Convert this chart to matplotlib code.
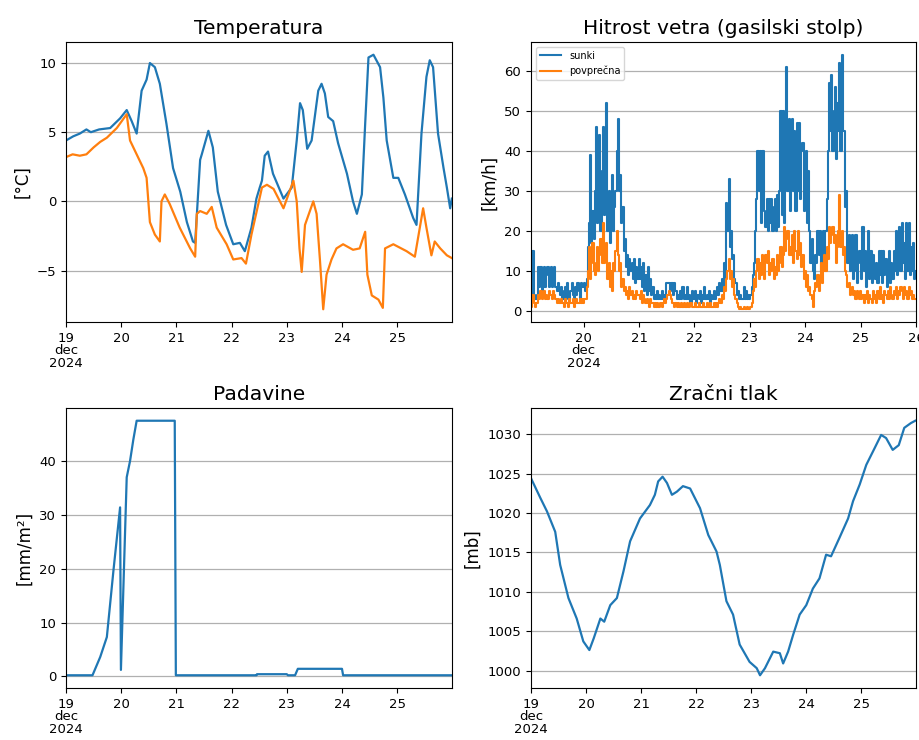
import numpy as np
import pandas as pd
import matplotlib
matplotlib.use("Agg")
import matplotlib.pyplot as plt

START = pd.Timestamp("2024-12-19 00:00")

# --- Temperatura (time in days since 19 Dec 00:00) ---
temp1_days = [0.00, 0.13, 0.25, 0.37, 0.45, 0.60, 0.80, 0.98, 1.10, 1.19, 1.28, 1.37, 1.46,
              1.52, 1.61, 1.70, 1.82, 1.94, 2.07, 2.19, 2.30, 2.34, 2.43, 2.46, 2.58, 2.66,
              2.75, 2.90, 3.03, 3.15, 3.24, 3.36, 3.45, 3.51, 3.55, 3.60, 3.66, 3.75, 3.94,
              4.09, 4.18, 4.24, 4.29, 4.37, 4.45, 4.57, 4.63, 4.69, 4.75, 4.84, 4.93, 5.09,
              5.20, 5.27, 5.36, 5.42, 5.48, 5.57, 5.69, 5.75, 5.81, 5.93, 6.02, 6.14, 6.29,
              6.35, 6.44, 6.53, 6.59, 6.65, 6.74, 6.84, 6.90, 6.96, 6.99]
temp1_vals = [4.4, 4.7, 4.9, 5.2, 5.0, 5.2, 5.3, 6.0, 6.6, 5.8, 4.9, 8.0, 8.8,
              10.0, 9.7, 8.5, 5.6, 2.4, 0.7, -1.5, -2.9, -3.0, 3.0, 3.4, 5.1, 3.9,
              0.7, -1.7, -3.1, -3.0, -3.6, -1.9, 0.2, 1.0, 1.5, 3.3, 3.6, 2.0, 0.2,
              1.0, 4.4, 7.1, 6.6, 3.8, 4.4, 8.0, 8.5, 7.8, 6.1, 5.8, 4.2, 2.0,
              0.0, -0.9, 0.5, 5.6, 10.4, 10.6, 9.7, 7.5, 4.4, 1.7, 1.7, 0.5, -1.2,
              -1.7, 4.9, 9.0, 10.2, 9.7, 4.9, 2.4, 1.0, -0.5, 0.2]

temp2_days = [0.00, 0.12, 0.25, 0.37, 0.50, 0.62, 0.74, 0.92, 1.10, 1.16, 1.28, 1.40, 1.46,
              1.52, 1.61, 1.70, 1.73, 1.79, 1.88, 2.06, 2.25, 2.34, 2.37, 2.43, 2.55, 2.64,
              2.73, 2.91, 3.03, 3.18, 3.26, 3.36, 3.45, 3.55, 3.64, 3.76, 3.94, 4.12, 4.18,
              4.23, 4.27, 4.33, 4.48, 4.54, 4.60, 4.66, 4.72, 4.81, 4.90, 5.02, 5.20, 5.32,
              5.42, 5.46, 5.54, 5.66, 5.74, 5.78, 5.93, 6.17, 6.32, 6.41, 6.47, 6.53, 6.62,
              6.68, 6.78, 6.90, 6.99]
temp2_vals = [3.2, 3.4, 3.3, 3.4, 3.9, 4.3, 4.6, 5.3, 6.3, 4.4, 3.4, 2.4, 1.7,
              -1.5, -2.4, -2.9, 0.0, 0.5, -0.2, -1.9, -3.4, -4.0, -0.9, -0.7, -0.9, -0.4,
              -1.9, -3.1, -4.2, -4.1, -4.5, -2.4, -0.8, 1.0, 1.2, 0.9, -0.5, 1.5, 0.0,
              -3.4, -5.1, -1.7, 0.0, -0.9, -4.2, -7.8, -5.3, -4.2, -3.4, -3.1, -3.5, -3.4,
              -2.2, -5.3, -6.8, -7.1, -7.7, -3.4, -3.1, -3.6, -4.0, -1.9, -0.5, -1.9, -3.9,
              -2.9, -3.4, -3.9, -4.1]

# --- Hitrost vetra: half-hourly values, 19 Dec 01:00 to 26 Dec 00:00 ---
wind_gust = [
    # 19 Dec 01:00-23:30
    7, 3, 15, 4, 3, 3,   4, 11, 6, 11, 5, 6,   11, 6, 9, 11, 6, 7,
    11, 6, 8, 11, 6, 5,   7, 5, 4, 6, 3, 5,   6, 3, 7, 4, 3, 5,
    7, 4, 3, 6, 4, 7,   5, 3, 7, 6,
    # 20 Dec
    6, 7, 5, 8, 16, 22,   39, 17, 25, 18, 30, 46,   22, 30, 44, 20, 35, 46,
    24, 30, 52, 20, 30, 17,   23, 34, 20, 26, 30, 40,   48, 30, 34, 22, 26, 15,
    18, 11, 14, 9, 13, 10,   12, 8, 13, 7, 11, 8,
    # 21 Dec
    13, 8, 11, 6, 12, 5,   9, 4, 11, 5, 8, 4,   6, 3, 4, 3, 5, 3,
    4, 3, 5, 3, 4, 3,   7, 7, 7, 5, 7, 7,   4, 7, 5, 3, 4, 3,
    5, 3, 6, 3, 4, 3,   6, 3, 4, 2, 5, 3,
    # 22 Dec
    3, 5, 2, 4, 3, 5,   2, 4, 3, 6, 3, 4,   3, 5, 2, 4, 3, 5,
    3, 4, 6, 4, 7, 5,   8, 5, 12, 8, 27, 20,   33, 16, 20, 13, 14, 8,
    7, 4, 5, 3, 4, 3,   3, 6, 3, 5, 3, 4,
    # 23 Dec
    3, 4, 6, 9, 12, 20,   28, 40, 30, 40, 22, 40,   40, 25, 21, 28, 20, 28,
    22, 28, 20, 26, 28, 20,   29, 21, 30, 50, 24, 50,   22, 35, 61, 30, 48, 25,
    40, 48, 30, 45, 25, 47,   30, 47, 28, 40, 42, 25,
    # 24 Dec
    30, 40, 22, 35, 20, 12,   18, 10, 8, 14, 12, 20,   14, 20, 10, 16, 20, 12,
    20, 28, 40, 57, 45, 59,   40, 50, 56, 38, 52, 45,   62, 40, 64, 45, 45, 26,
    30, 12, 19, 10, 14, 19,   8, 10, 19, 7, 12, 15,
    # 25 Dec
    15, 8, 21, 10, 15, 6,   12, 20, 8, 15, 7, 14,   10, 8, 12, 7, 15, 9,
    15, 7, 15, 9, 13, 6,   10, 15, 7, 12, 8, 15,   10, 20, 9, 14, 21, 10,
    22, 12, 17, 8, 22, 10,   22, 9, 16, 10, 17, 8,
    # 26 Dec 00:00
    10]
wind_mean = [
    # 19 Dec 01:00-23:30
    3, 1, 4, 2, 1, 2,   2, 4, 3, 5, 3, 4,   5, 3, 4, 3, 5, 4,
    4, 3, 5, 4, 3, 2,   3, 2, 2, 3, 2, 1,   3, 2, 2, 1, 3, 2,
    2, 3, 1, 2, 3, 2,   2, 3, 2, 3,
    # 20 Dec
    2, 3, 3, 6, 10, 16,   8, 12, 17, 10, 9, 12,   16, 10, 14, 18, 12, 22,
    12, 16, 17, 8, 12, 6,   10, 5, 12, 10, 15, 20,   14, 10, 12, 6, 8, 5,
    6, 4, 5, 3, 6, 4,   5, 3, 4, 3, 5, 4,
    # 21 Dec
    4, 3, 5, 2, 4, 3,   2, 3, 2, 1, 3, 2,   2, 1, 2, 1, 2, 1,
    1, 2, 1, 2, 3, 2,   3, 4, 5, 4, 3, 2,   2, 1, 2, 1, 2, 1,
    1, 2, 1, 2, 1, 1,   2, 1, 1, 2, 1, 1,
    # 22 Dec
    1, 2, 1, 1, 2, 1,   1, 1, 2, 1, 1, 2,   1, 1, 2, 1, 1, 2,
    1, 2, 1, 2, 3, 2,   4, 3, 6, 5, 8, 10,   13, 8, 10, 6, 8, 4,
    3, 2, 1, 0.5, 1, 0.5,   0.5, 1, 0.5, 0.5, 1, 0.5,
    # 23 Dec
    0.5, 1, 2, 5, 8, 6,   10, 13, 8, 12, 9, 14,   10, 8, 14, 12, 15, 9,
    12, 10, 13, 8, 11, 9,   14, 10, 12, 16, 11, 14,   21, 15, 18, 20, 14, 16,
    14, 19, 12, 20, 15, 13,   20, 14, 17, 11, 14, 8,
    # 24 Dec
    10, 6, 9, 5, 6, 4,   3, 1, 5, 7, 6, 9,   5, 8, 12, 7, 10, 14,
    10, 16, 13, 21, 17, 19,   21, 17, 19, 12, 16, 20,   29, 16, 20, 14, 16, 10,
    9, 6, 7, 4, 5, 6,   4, 5, 3, 5, 4, 3,
    # 25 Dec
    5, 3, 4, 2, 4, 3,   5, 2, 4, 3, 2, 5,   3, 4, 2, 5, 3, 6,
    3, 4, 2, 5, 4, 3,   5, 3, 6, 4, 3, 5,   4, 6, 3, 5, 4, 6,
    5, 3, 6, 4, 5, 3,   6, 4, 5, 3, 4, 3,
    # 26 Dec 00:00
    3]

# --- Padavine ---
rain_days = [0.00, 0.48, 0.62, 0.74, 0.86, 0.98, 0.995, 1.10, 1.16, 1.22, 1.28, 1.97, 1.99,
             3.45, 3.46, 4.00, 4.02, 4.15, 4.20, 5.00, 5.02, 6.98]
rain_vals = [0.2, 0.2, 3.6, 7.3, 19.7, 31.4, 1.2, 37.0, 40.0, 44.0, 47.5, 47.5, 0.2,
             0.2, 0.4, 0.4, 0.2, 0.2, 1.4, 1.4, 0.2, 0.2]

# --- Zračni tlak ---
press_days = [0.00, 0.17, 0.29, 0.44, 0.53, 0.68, 0.83, 0.95, 1.06, 1.14, 1.26, 1.33, 1.44,
              1.56, 1.68, 1.80, 1.98, 2.16, 2.25, 2.31, 2.39, 2.47, 2.56, 2.65, 2.76, 2.89,
              3.07, 3.22, 3.37, 3.43, 3.55, 3.67, 3.79, 3.97, 4.10, 4.16, 4.25, 4.40, 4.52,
              4.58, 4.67, 4.76, 4.88, 5.00, 5.12, 5.24, 5.36, 5.45, 5.60, 5.76, 5.85, 5.97,
              6.09, 6.24, 6.36, 6.45, 6.57, 6.68, 6.78, 6.90, 6.98]
press_vals = [1024.4, 1021.9, 1020.2, 1017.6, 1013.4, 1009.2, 1006.6, 1003.7, 1002.6, 1004.1,
              1006.6, 1006.2, 1008.3, 1009.2, 1012.6, 1016.4, 1019.3, 1021.0, 1022.3, 1024.0,
              1024.6, 1023.8, 1022.3, 1022.7, 1023.4, 1023.1, 1020.6, 1017.2, 1015.1, 1013.4,
              1008.8, 1007.1, 1003.3, 1001.1, 1000.3, 999.4, 1000.3, 1002.4, 1002.2, 1000.9,
              1002.4, 1004.5, 1007.1, 1008.3, 1010.4, 1011.7, 1014.7, 1014.5, 1016.8, 1019.3,
              1021.5, 1023.6, 1026.1, 1028.2, 1029.9, 1029.5, 1028.0, 1028.6, 1030.8, 1031.4,
              1031.7]

day_labels = ["19\ndec\n2024", "20", "21", "22", "23", "24", "25"]
wind_labels = ["20\ndec\n2024", "21", "22", "23", "24", "25", "26"]


def to_time(days):
    return START + pd.to_timedelta(np.asarray(days, dtype=float), unit="D")


blue, orange = "#1f77b4", "#ff7f0e"
plt.rcParams["font.family"] = ["DejaVu Sans"]

fig = plt.figure(figsize=(9.19, 7.40), dpi=100)
W, H = 919, 740


def add_axes(x0, y0, x1, y1):
    return fig.add_axes([x0 / W, 1 - y1 / H, (x1 - x0) / W, (y1 - y0) / H])


ax_t = add_axes(66, 42, 452, 322)
ax_w = add_axes(531, 42, 916, 322)
ax_r = add_axes(66, 408, 452, 688)
ax_p = add_axes(531, 408, 916, 688)

day_ticks = [START + pd.Timedelta(days=i) for i in range(7)]
wind_ticks = [START + pd.Timedelta(days=i) for i in range(1, 8)]
full_lim = (START, START + pd.Timedelta(hours=167, minutes=50))
title_fs = 14.6

# Temperature
ax_t.plot(to_time(temp1_days), temp1_vals, color=blue, lw=1.6)
ax_t.plot(to_time(temp2_days), temp2_vals, color=orange, lw=1.6)
ax_t.set_title("Temperatura", fontsize=title_fs)
ax_t.set_ylabel("[°C]", fontsize=12)
ax_t.set_xlim(*full_lim)
ax_t.set_xticks(day_ticks)
ax_t.set_xticklabels(day_labels)
ax_t.set_yticks([-5, 0, 5, 10])

# Wind
wind_t = pd.date_range("2024-12-19 01:00", periods=len(wind_gust), freq="30min")
ax_w.plot(wind_t, wind_gust, color=blue, lw=1.5, drawstyle="steps-mid", label="sunki")
ax_w.plot(wind_t, wind_mean, color=orange, lw=1.5, drawstyle="steps-mid", label="povprečna")
ax_w.set_title("Hitrost vetra (gasilski stolp)", fontsize=title_fs)
ax_w.set_ylabel("[km/h]", fontsize=12)
ax_w.set_xlim(pd.Timestamp("2024-12-19 01:10"), wind_t[-1])
ax_w.set_xticks(wind_ticks)
ax_w.set_xticklabels(wind_labels)
ax_w.set_yticks([0, 10, 20, 30, 40, 50, 60])
ax_w.legend(loc="upper left", fontsize=7, handlelength=2.2)

# Precipitation
ax_r.plot(to_time(rain_days), rain_vals, color=blue, lw=1.6)
ax_r.set_title("Padavine", fontsize=title_fs)
ax_r.set_ylabel("[mm/m²]", fontsize=12)
ax_r.set_xlim(*full_lim)
ax_r.set_xticks(day_ticks)
ax_r.set_xticklabels(day_labels)
ax_r.set_yticks([0, 10, 20, 30, 40])

# Pressure
ax_p.plot(to_time(press_days), press_vals, color=blue, lw=1.6)
ax_p.set_title("Zračni tlak", fontsize=title_fs)
ax_p.set_ylabel("[mb]", fontsize=12)
ax_p.set_xlim(*full_lim)
ax_p.set_xticks(day_ticks)
ax_p.set_xticklabels(day_labels)
ax_p.set_yticks([1000, 1005, 1010, 1015, 1020, 1025, 1030])

for ax in (ax_t, ax_w, ax_r, ax_p):
    ax.grid(axis="y", color="#b0b0b0", lw=0.9)
    ax.set_axisbelow(True)
    ax.tick_params(labelsize=9.5)
    for lbl in ax.get_xticklabels():
        lbl.set_ha("center")
        lbl.set_linespacing(0.95)

fig.savefig("out.png", dpi=100)
